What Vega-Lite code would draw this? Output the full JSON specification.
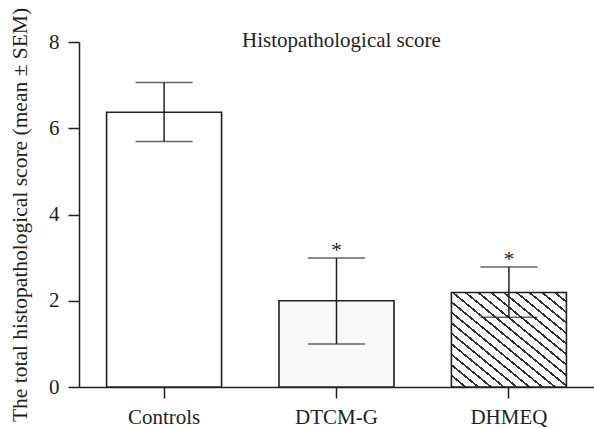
{
  "$schema": "https://vega.github.io/schema/vega-lite/v6.json",
  "autosize": {"type": "none"},
  "width": 515,
  "height": 345,
  "padding": {"left": 79, "top": 42, "right": 0, "bottom": 42},
  "background": "white",
  "config": {
    "font": "Liberation Serif",
    "view": {"stroke": null},
    "axis": {
      "labelFont": "Liberation Serif",
      "titleFont": "Liberation Serif",
      "labelFontSize": 21,
      "titleFontSize": 21.5,
      "labelColor": "#231f20",
      "titleColor": "#231f20",
      "domainColor": "#231f20",
      "tickColor": "#231f20",
      "domainWidth": 1.5,
      "tickWidth": 1.5,
      "tickSize": 11,
      "grid": false,
      "titleFontWeight": "normal"
    }
  },
  "title": {
    "text": "Histopathological score",
    "font": "Liberation Serif",
    "fontSize": 21,
    "fontWeight": "normal",
    "color": "#231f20",
    "anchor": "middle",
    "frame": "group",
    "offset": -28,
    "dx": 5,
    "dy": 16
  },
  "data": {
    "values": [
      {"group": "Controls", "mean": 6.37, "lo": 5.69, "hi": 7.06, "star": ""},
      {"group": "DTCM-G", "mean": 2.0, "lo": 1.0, "hi": 2.99, "star": "*"},
      {"group": "DHMEQ", "mean": 2.19, "lo": 1.62, "hi": 2.78, "star": "*"}
    ]
  },
  "encoding": {
    "x": {
      "field": "group",
      "type": "nominal",
      "sort": ["Controls", "DTCM-G", "DHMEQ"],
      "scale": {"paddingInner": 0.333, "paddingOuter": 0.16},
      "axis": {"title": null, "labelAngle": 0, "labelPadding": 8}
    }
  },
  "layer": [
    {
      "transform": [{"filter": "datum.group === 'Controls'"}],
      "mark": {"type": "bar", "fill": "white", "stroke": "#231f20", "strokeWidth": 1.6},
      "encoding": {
        "y": {
          "field": "mean",
          "type": "quantitative",
          "scale": {"domain": [0, 8], "nice": false},
          "axis": {
            "title": "The total histopathological score (mean ± SEM)",
            "values": [0, 2, 4, 6, 8],
            "labelPadding": 9,
            "titlePadding": 17
          }
        }
      }
    },
    {
      "transform": [{"filter": "datum.group === 'DTCM-G'"}],
      "mark": {"type": "bar", "fill": "#f8f8f8", "stroke": "#231f20", "strokeWidth": 1.6},
      "encoding": {"y": {"field": "mean", "type": "quantitative"}}
    },
    {
      "transform": [{"filter": "datum.group === 'DHMEQ'"}],
      "mark": {
        "type": "bar",
        "stroke": "#231f20",
        "strokeWidth": 1.6,
        "fill": {
          "gradient": "linear",
          "x1": 0, "y1": 1, "x2": 1, "y2": 0,
          "stops": [
            {"offset": 0.0, "color": "#333333"}, {"offset": 0.012, "color": "#333333"}, {"offset": 0.012, "color": "#ffffff"}, {"offset": 0.0556, "color": "#ffffff"},
            {"offset": 0.0556, "color": "#333333"}, {"offset": 0.0676, "color": "#333333"}, {"offset": 0.0676, "color": "#ffffff"}, {"offset": 0.1111, "color": "#ffffff"},
            {"offset": 0.1111, "color": "#333333"}, {"offset": 0.1231, "color": "#333333"}, {"offset": 0.1231, "color": "#ffffff"}, {"offset": 0.1667, "color": "#ffffff"},
            {"offset": 0.1667, "color": "#333333"}, {"offset": 0.1787, "color": "#333333"}, {"offset": 0.1787, "color": "#ffffff"}, {"offset": 0.2222, "color": "#ffffff"},
            {"offset": 0.2222, "color": "#333333"}, {"offset": 0.2342, "color": "#333333"}, {"offset": 0.2342, "color": "#ffffff"}, {"offset": 0.2778, "color": "#ffffff"},
            {"offset": 0.2778, "color": "#333333"}, {"offset": 0.2898, "color": "#333333"}, {"offset": 0.2898, "color": "#ffffff"}, {"offset": 0.3333, "color": "#ffffff"},
            {"offset": 0.3333, "color": "#333333"}, {"offset": 0.3453, "color": "#333333"}, {"offset": 0.3453, "color": "#ffffff"}, {"offset": 0.3889, "color": "#ffffff"},
            {"offset": 0.3889, "color": "#333333"}, {"offset": 0.4009, "color": "#333333"}, {"offset": 0.4009, "color": "#ffffff"}, {"offset": 0.4444, "color": "#ffffff"},
            {"offset": 0.4444, "color": "#333333"}, {"offset": 0.4564, "color": "#333333"}, {"offset": 0.4564, "color": "#ffffff"}, {"offset": 0.5, "color": "#ffffff"},
            {"offset": 0.5, "color": "#333333"}, {"offset": 0.512, "color": "#333333"}, {"offset": 0.512, "color": "#ffffff"}, {"offset": 0.5556, "color": "#ffffff"},
            {"offset": 0.5556, "color": "#333333"}, {"offset": 0.5676, "color": "#333333"}, {"offset": 0.5676, "color": "#ffffff"}, {"offset": 0.6111, "color": "#ffffff"},
            {"offset": 0.6111, "color": "#333333"}, {"offset": 0.6231, "color": "#333333"}, {"offset": 0.6231, "color": "#ffffff"}, {"offset": 0.6667, "color": "#ffffff"},
            {"offset": 0.6667, "color": "#333333"}, {"offset": 0.6787, "color": "#333333"}, {"offset": 0.6787, "color": "#ffffff"}, {"offset": 0.7222, "color": "#ffffff"},
            {"offset": 0.7222, "color": "#333333"}, {"offset": 0.7342, "color": "#333333"}, {"offset": 0.7342, "color": "#ffffff"}, {"offset": 0.7778, "color": "#ffffff"},
            {"offset": 0.7778, "color": "#333333"}, {"offset": 0.7898, "color": "#333333"}, {"offset": 0.7898, "color": "#ffffff"}, {"offset": 0.8333, "color": "#ffffff"},
            {"offset": 0.8333, "color": "#333333"}, {"offset": 0.8453, "color": "#333333"}, {"offset": 0.8453, "color": "#ffffff"}, {"offset": 0.8889, "color": "#ffffff"},
            {"offset": 0.8889, "color": "#333333"}, {"offset": 0.9009, "color": "#333333"}, {"offset": 0.9009, "color": "#ffffff"}, {"offset": 0.9444, "color": "#ffffff"},
            {"offset": 0.9444, "color": "#333333"}, {"offset": 0.9564, "color": "#333333"}, {"offset": 0.9564, "color": "#ffffff"}, {"offset": 1.0, "color": "#ffffff"}
          ]
        }
      },
      "encoding": {"y": {"field": "mean", "type": "quantitative"}}
    },
    {
      "mark": {"type": "rule", "color": "#231f20", "strokeWidth": 1.5},
      "encoding": {
        "y": {"field": "lo", "type": "quantitative"},
        "y2": {"field": "hi"}
      }
    },
    {
      "mark": {"type": "tick", "color": "#231f20", "thickness": 1.5, "size": 57, "orient": "horizontal"},
      "encoding": {"y": {"field": "hi", "type": "quantitative"}}
    },
    {
      "mark": {"type": "tick", "color": "#231f20", "thickness": 1.5, "size": 57, "orient": "horizontal"},
      "encoding": {"y": {"field": "lo", "type": "quantitative"}}
    },
    {
      "mark": {"type": "text", "font": "Liberation Serif", "fontSize": 21, "color": "#231f20", "baseline": "middle", "dy": -7},
      "encoding": {
        "y": {"field": "hi", "type": "quantitative"},
        "text": {"field": "star"}
      }
    }
  ]
}
